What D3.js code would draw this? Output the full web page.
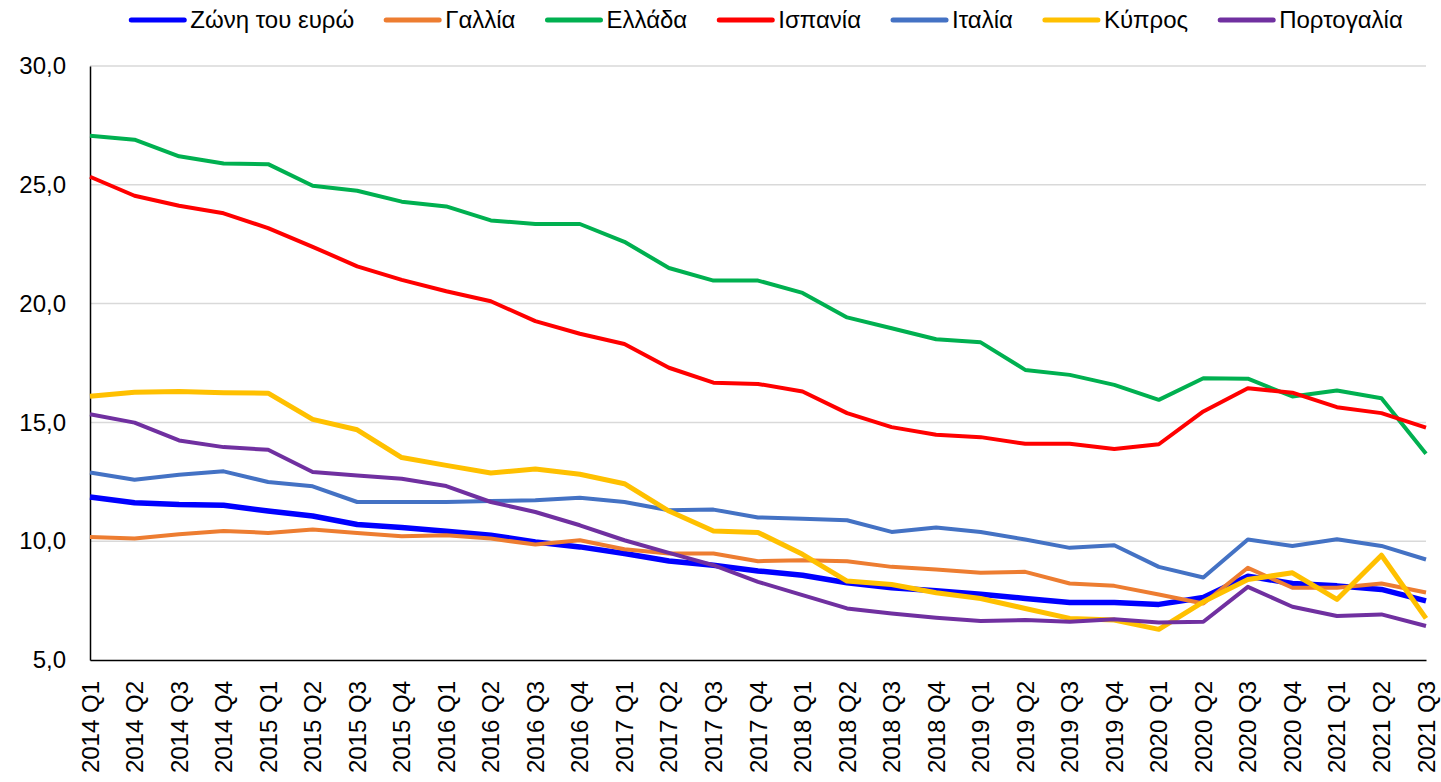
<!DOCTYPE html>
<html>
<head>
<meta charset="utf-8">
<script src="https://cdn.jsdelivr.net/npm/d3@7.9.0/dist/d3.min.js"></script>
<style>
  body { margin: 0; background: #fff; }
  svg { display: block; font-family: "Liberation Sans", Arial, sans-serif; }
</style>
</head>
<body>
<div id="chart"></div>
<script>
// Quarters on the x axis
const quarters = [
  '2014 Q1', '2014 Q2', '2014 Q3', '2014 Q4',
  '2015 Q1', '2015 Q2', '2015 Q3', '2015 Q4',
  '2016 Q1', '2016 Q2', '2016 Q3', '2016 Q4',
  '2017 Q1', '2017 Q2', '2017 Q3', '2017 Q4',
  '2018 Q1', '2018 Q2', '2018 Q3', '2018 Q4',
  '2019 Q1', '2019 Q2', '2019 Q3', '2019 Q4',
  '2020 Q1', '2020 Q2', '2020 Q3', '2020 Q4',
  '2021 Q1', '2021 Q2', '2021 Q3'
];

const yTicks = [5, 10, 15, 20, 25, 30];

// Series values
const euroArea = [11.86, 11.62, 11.54, 11.51, 11.27, 11.06, 10.70, 10.58, 10.42, 10.25, 9.97, 9.76,
  9.48, 9.17, 8.99, 8.75, 8.57, 8.25, 8.04, 7.91, 7.77, 7.59, 7.42, 7.42, 7.34, 7.63, 8.53, 8.22, 8.12, 7.97, 7.49];
const france = [10.18, 10.11, 10.29, 10.43, 10.35, 10.49, 10.35, 10.21, 10.25, 10.11, 9.86, 10.04,
  9.66, 9.48, 9.48, 9.16, 9.20, 9.16, 8.92, 8.81, 8.67, 8.71, 8.22, 8.12, 7.76, 7.38, 8.88, 8.04, 8.04, 8.22, 7.84];
const greece = [27.06, 26.90, 26.20, 25.90, 25.87, 24.96, 24.75, 24.29, 24.09, 23.50, 23.35, 23.35,
  22.60, 21.50, 20.97, 20.97, 20.45, 19.42, 18.96, 18.50, 18.37, 17.21, 17.00, 16.58, 15.95, 16.86, 16.84, 16.09, 16.34, 16.02, 13.68];
const spain = [25.34, 24.54, 24.12, 23.80, 23.18, 22.39, 21.57, 21.00, 20.52, 20.10, 19.26, 18.73,
  18.30, 17.30, 16.67, 16.62, 16.30, 15.39, 14.80, 14.48, 14.38, 14.10, 14.10, 13.88, 14.08, 15.46, 16.44, 16.25, 15.64, 15.39, 14.78];
const italy = [12.89, 12.59, 12.80, 12.94, 12.49, 12.31, 11.65, 11.65, 11.65, 11.69, 11.72, 11.83,
  11.65, 11.30, 11.33, 11.00, 10.95, 10.88, 10.39, 10.58, 10.39, 10.07, 9.72, 9.83, 8.92, 8.47, 10.07, 9.80, 10.08, 9.80, 9.23];
const cyprus = [16.10, 16.27, 16.30, 16.25, 16.23, 15.13, 14.69, 13.52, 13.19, 12.87, 13.04, 12.82,
  12.42, 11.27, 10.43, 10.37, 9.45, 8.32, 8.18, 7.83, 7.59, 7.17, 6.75, 6.68, 6.29, 7.45, 8.39, 8.67, 7.55, 9.41, 6.75];
const portugal = [15.34, 14.99, 14.24, 13.96, 13.85, 12.91, 12.77, 12.63, 12.32, 11.65, 11.23, 10.67,
  10.04, 9.51, 8.99, 8.29, 7.73, 7.17, 6.96, 6.78, 6.64, 6.68, 6.61, 6.71, 6.58, 6.61, 8.08, 7.24, 6.85, 6.92, 6.43];

const seriesNames = ['Ζώνη του ευρώ', 'Γαλλία', 'Ελλάδα', 'Ισπανία', 'Ιταλία', 'Κύπρος', 'Πορτογαλία'];
const seriesColors = ['#0000FF', '#ED7D31', '#00B050', '#FF0000', '#4472C4', '#FFC000', '#7030A0'];
const seriesValues = [euroArea, france, greece, spain, italy, cyprus, portugal];

const series = seriesNames.map((name, i) => ({
  name,
  color: seriesColors[i],
  width: i === 0 ? 5.5 : (i === 5 ? 5 : 4),
  values: seriesValues[i]
}));

const width = 1441;
const height = 782;
const margin = { top: 66, right: 15, bottom: 122, left: 90 };

const svg = d3.select('#chart')
  .append('svg')
  .attr('width', width)
  .attr('height', height);

const x = d3.scalePoint()
  .domain(quarters)
  .range([margin.left, width - margin.right]);

const y = d3.scaleLinear()
  .domain([5, 30])
  .range([height - margin.bottom, margin.top]);

// Gridlines
svg.append('g')
  .attr('class', 'grid')
  .selectAll('line')
  .data(yTicks.filter(d => d > 5))
  .join('line')
  .attr('x1', margin.left)
  .attr('x2', width - margin.right)
  .attr('y1', d => y(d))
  .attr('y2', d => y(d))
  .attr('stroke', '#d9d9d9')
  .attr('stroke-width', 1.5);

// Y axis
const yAxis = svg.append('g')
  .attr('transform', `translate(${margin.left},0)`)
  .call(d3.axisLeft(y).tickValues(yTicks).tickSize(0).tickPadding(24)
    .tickFormat(d => d3.format('.1f')(d).replace('.', ',')));
yAxis.select('.domain').attr('stroke', '#000').attr('stroke-width', 1.5);
yAxis.selectAll('text')
  .attr('font-size', 24)
  .attr('font-family', '"Liberation Sans", Arial, sans-serif')
  .attr('fill', '#000');

// X axis
const xAxis = svg.append('g')
  .attr('transform', `translate(0,${height - margin.bottom})`)
  .call(d3.axisBottom(x).tickSize(0).tickPadding(0));
xAxis.select('.domain').attr('stroke', '#000').attr('stroke-width', 1.5);
xAxis.selectAll('text')
  .attr('font-size', 24)
  .attr('font-family', '"Liberation Sans", Arial, sans-serif')
  .attr('fill', '#000')
  .attr('text-anchor', 'end')
  .attr('dy', null)
  .attr('y', 0)
  .attr('transform', 'translate(8,21) rotate(-90)');

// Lines
const line = d3.line()
  .x((d, i) => x(quarters[i]))
  .y(d => y(d));

svg.append('g')
  .attr('class', 'lines')
  .selectAll('path')
  .data(series)
  .join('path')
  .attr('d', d => line(d.values))
  .attr('fill', 'none')
  .attr('stroke', d => d.color)
  .attr('stroke-width', d => d.width)
  .attr('stroke-linejoin', 'round')
  .attr('stroke-linecap', 'butt');

// Legend
const legend = svg.append('g').attr('class', 'legend');
const sampleLen = 53;
const textGap = 6;
const itemGap = 32;

const items = legend.selectAll('g')
  .data(series)
  .join('g');

items.append('line')
  .attr('x1', 0)
  .attr('x2', sampleLen)
  .attr('y1', 0)
  .attr('y2', 0)
  .attr('stroke', d => d.color)
  .attr('stroke-width', 5)
  .attr('stroke-linecap', 'round');

items.append('text')
  .attr('x', sampleLen + textGap)
  .attr('y', 0)
  .attr('dy', '0.35em')
  .attr('font-size', 24)
  .attr('fill', '#000')
  .text(d => d.name);

let offset = 0;
const widths = [];
items.each(function () {
  const w = sampleLen + textGap + d3.select(this).select('text').node().getComputedTextLength();
  widths.push(w);
});
const total = d3.sum(widths) + itemGap * (widths.length - 1);
const startX = 767 - total / 2;
items.attr('transform', (d, i) => {
  const tx = startX + offset;
  offset += widths[i] + itemGap;
  return `translate(${tx},20)`;
});
</script>
</body>
</html>
